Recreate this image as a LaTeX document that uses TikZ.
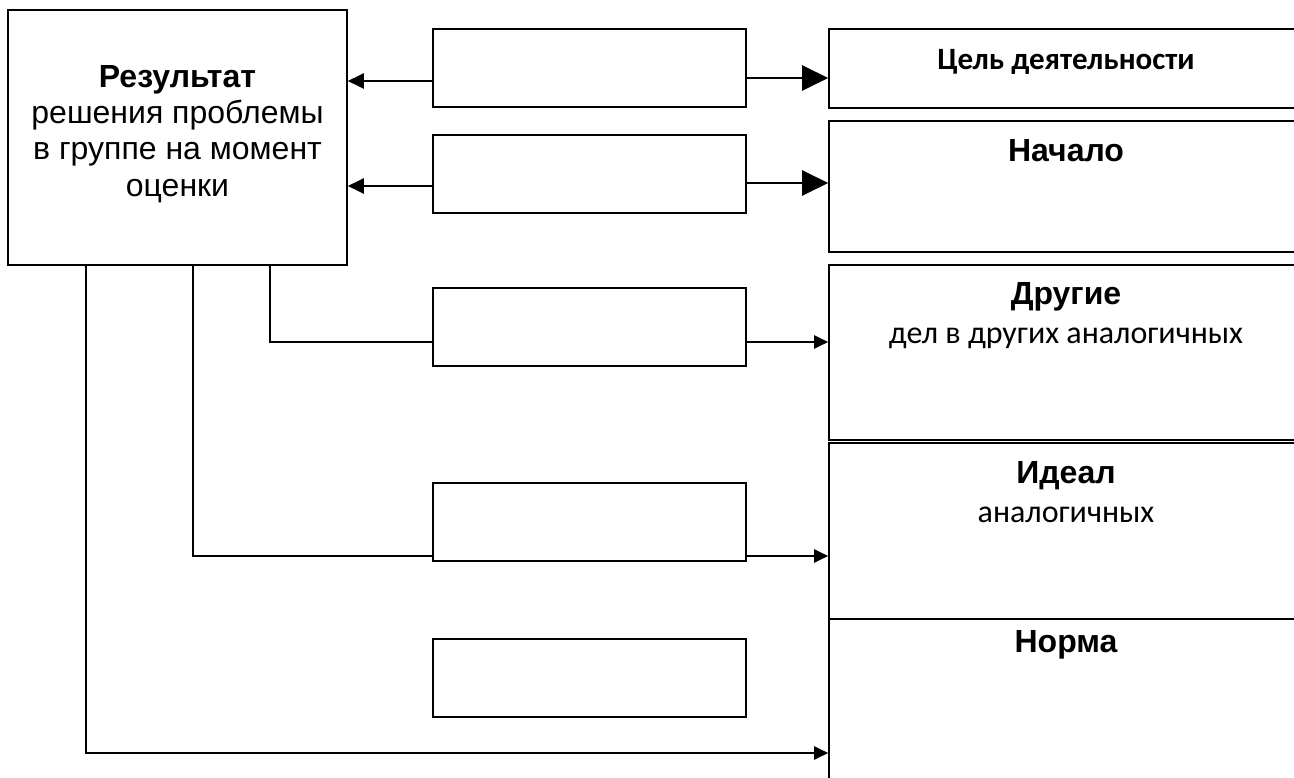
\documentclass[tikz,border=0pt]{standalone}
\usepackage{fontspec}
\setmainfont{Liberation Sans}
\newfontfamily\calibrifont{Carlito}
\usetikzlibrary{arrows.meta}
\begin{document}
\begin{tikzpicture}[x=1pt,y=-1pt,
  box/.style={draw, line width=1.6pt, rectangle, inner sep=0pt},
  wire/.style={line width=2.2pt},
  bighead/.style={wire, -{Triangle[length=26pt,width=25pt]}},
  lefthead/.style={wire, -{Triangle[length=16pt,width=15pt]}},
  smallhead/.style={wire, -{Triangle[length=14pt,width=13pt]}},
  txt/.style={inner sep=0pt, anchor=base, font=\fontsize{32}{36}\selectfont},
  btxt/.style={txt, font=\bfseries\fontsize{32}{36}\selectfont},
  ctxt/.style={inner sep=0pt, anchor=base, font=\calibrifont\fontsize{32}{36}\selectfont},
  cbtxt/.style={ctxt, font=\calibrifont\bfseries\fontsize{31}{36}\selectfont},
]
\useasboundingbox (0,0) rectangle (1294,778);

% result box on the left
\node[box, minimum width=339pt, minimum height=255pt] (res) at (177.5,137.5) {};
\node[btxt] (resA) at (177.5,88) {Результат};
\node[txt] (resB) at (177.5,124) {решения проблемы};
\node[txt] (resC) at (177.5,160) {в группе на момент};
\node[txt] (resD) at (177.5,197) {оценки};

% empty middle boxes
\foreach \n/\y in {m1/68, m2/174, m3/327, m4/522, m5/678}
  \node[box, minimum width=313pt, minimum height=78pt] (\n) at (589.5,\y) {};

% right-hand column of boxes (running past the right edge)
\node[box, minimum width=474pt, minimum height=79pt]  (r1) at (1066,68.5) {};
\node[box, minimum width=474pt, minimum height=131pt] (r2) at (1066,186.5) {};
\node[box, minimum width=474pt, minimum height=175pt] (r3) at (1066,352.5) {};
\node[box, minimum width=474pt, minimum height=176pt] (r4) at (1066,531) {};
\node[box, minimum width=474pt, minimum height=181pt] (r5) at (1066,709.5) {};

\node[cbtxt] (r1t) at (1066,70) {Цель деятельности};
\node[btxt] (r2t) at (1066,162) {Начало};
\node[btxt] (r3t) at (1066,305) {Другие};
\node[ctxt] (r3s) at (1066,343) {дел в других аналогичных};
\node[btxt] (r4t) at (1066,483) {Идеал};
\node[ctxt] (r4s) at (1066,522) {аналогичных};
\node[btxt] (r5t) at (1066,652) {Норма};

% rows 1 and 2: arrows both ways from the middle boxes
\coordinate (p1) at ([yshift=-13pt]m1.west);
\coordinate (q1) at ([yshift=-10pt]m1.east);
\draw[lefthead] (p1) -- (p1 -| res.east);
\draw[bighead] (q1) -- (q1 -| r1.west);
\coordinate (p2) at ([yshift=-12pt]m2.west);
\coordinate (q2) at ([yshift=-9pt]m2.east);
\draw[lefthead] (p2) -- (p2 -| res.east);
\draw[bighead] (q2) -- (q2 -| r2.west);

% rows 3 and 4: from the bottom of the result box through the middle boxes
\coordinate (d3) at ([xshift=92.5pt]res.south);
\coordinate (p3) at ([yshift=-15pt]m3.west);
\coordinate (q3) at ([yshift=-15pt]m3.east);
\draw[wire] (d3) |- (p3);
\draw[smallhead] (q3) -- (q3 -| r3.west);

\coordinate (d4) at ([xshift=15.5pt]res.south);
\coordinate (p4) at ([yshift=-34pt]m4.west);
\coordinate (q4) at ([yshift=-34pt]m4.east);
\draw[wire] (d4) |- (p4);
\draw[smallhead] (q4) -- (q4 -| r4.west);

% bottom line straight to the last box
\coordinate (d5) at ([xshift=-91.5pt]res.south);
\coordinate (p5) at ([yshift=-43.5pt]r5.west);
\draw[smallhead] (d5) |- (p5);
\end{tikzpicture}
\end{document}
